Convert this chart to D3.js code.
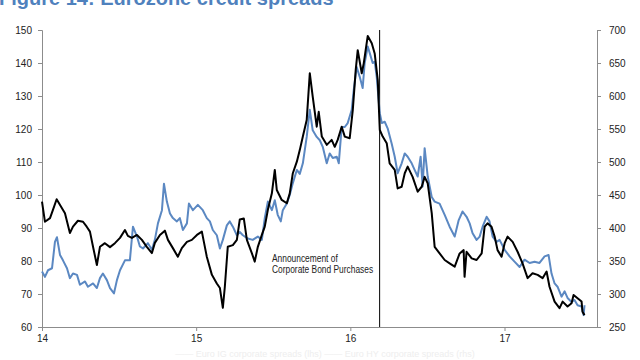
<!DOCTYPE html>
<html><head><meta charset="utf-8">
<script src="https://cdn.jsdelivr.net/npm/d3@7"></script>
<style>
html,body{margin:0;padding:0;background:#fff;}
svg{display:block;}
</style></head>
<body>
<svg id="chart" width="640" height="360"></svg>
<script>
// Decimal years and values
const igDates = [2014.00,2014.019,2014.052,2014.071,2014.095,2014.117,2014.149,2014.181,2014.201,2014.233,2014.266,2014.290,2014.311,2014.331,2014.356,2014.376,2014.408,2014.441,2014.473,2014.506,2014.538,2014.557,2014.583,2014.616,2014.648,2014.680,2014.713,2014.732,2014.765,2014.797,2014.817,2014.849,2014.881,2014.907,2014.940,2014.972,2015.005,2015.037,2015.050,2015.069,2015.102,2015.134,2015.154,2015.173,2015.186,2015.205,2015.238,2015.264,2015.283,2015.309,2015.329,2015.361,2015.380,2015.400,2015.426,2015.445,2015.465,2015.491,2015.510,2015.523,2015.555,2015.588,2015.607,2015.627,2015.653,2015.672,2015.692,2015.717,2015.737,2015.756,2015.782,2015.795,2015.815,2015.847,2015.879,2015.899,2015.918,2015.944,2015.964,2015.996,2016.016,2016.035,2016.048,2016.074,2016.087,2016.106,2016.113,2016.139,2016.158,2016.178,2016.191,2016.210,2016.236,2016.255,2016.288,2016.307,2016.333,2016.353,2016.372,2016.404,2016.437,2016.463,2016.482,2016.502,2016.528,2016.547,2016.579,2016.612,2016.644,2016.677,2016.709,2016.735,2016.741,2016.754,2016.787,2016.819,2016.852,2016.871,2016.890,2016.916,2016.936,2016.955,2016.981,2017.001,2017.020,2017.053,2017.085,2017.117,2017.150,2017.182,2017.215,2017.247,2017.273,2017.292,2017.325,2017.357,2017.377,2017.409,2017.435,2017.448,2017.474,2017.500,2017.506,2017.519];
const igValues = [98.0,91.9,93.0,95.5,98.7,97.0,94.5,88.5,90.4,92.2,91.9,90.4,88.9,84.3,78.8,84.3,85.4,84.2,85.4,87.0,89.4,87.6,87.0,87.9,86.4,84.3,82.4,85.5,87.9,89.2,86.4,83.9,81.3,83.9,85.8,86.4,87.9,88.9,85.8,81.3,75.8,73.2,71.8,65.8,72.2,84.3,84.8,86.4,92.6,92.9,86.4,82.4,79.8,84.3,87.9,90.4,95.5,100.5,107.6,101.5,98.5,97.5,100.5,106.6,110.1,113.6,117.7,122.7,136.9,129.8,120.7,125.2,117.7,115.2,116.7,114.6,116.7,120.7,117.7,117.2,125.8,137.9,143.9,136.9,139.9,146.0,148.2,146.0,142.9,134.8,119.7,117.7,115.7,109.6,107.6,102.0,102.5,106.6,108.6,105.5,101.0,102.5,105.5,103.5,94.5,84.3,82.3,80.3,79.3,78.3,82.3,83.3,75.2,82.8,80.8,80.3,82.3,90.4,91.4,90.4,87.4,83.3,81.3,85.4,87.4,85.8,82.8,79.3,74.8,76.3,75.8,74.8,76.8,72.2,67.7,65.7,67.7,66.2,67.2,69.7,68.7,67.7,64.6,63.6];

const hyDates = [2014.000,2014.019,2014.039,2014.065,2014.084,2014.097,2014.117,2014.136,2014.162,2014.181,2014.201,2014.227,2014.246,2014.279,2014.298,2014.331,2014.356,2014.376,2014.395,2014.421,2014.441,2014.467,2014.486,2014.506,2014.538,2014.570,2014.590,2014.616,2014.635,2014.655,2014.687,2014.713,2014.732,2014.752,2014.778,2014.791,2014.810,2014.830,2014.849,2014.875,2014.894,2014.914,2014.940,2014.953,2014.979,2015.011,2015.043,2015.069,2015.089,2015.108,2015.134,2015.154,2015.173,2015.199,2015.218,2015.238,2015.264,2015.283,2015.303,2015.335,2015.367,2015.400,2015.426,2015.445,2015.465,2015.491,2015.510,2015.529,2015.549,2015.562,2015.588,2015.607,2015.627,2015.653,2015.672,2015.692,2015.717,2015.737,2015.756,2015.782,2015.802,2015.821,2015.847,2015.866,2015.886,2015.912,2015.925,2015.944,2015.964,2015.983,2016.009,2016.022,2016.041,2016.061,2016.080,2016.093,2016.113,2016.126,2016.145,2016.158,2016.171,2016.191,2016.204,2016.223,2016.242,2016.268,2016.288,2016.307,2016.333,2016.353,2016.372,2016.398,2016.417,2016.437,2016.456,2016.469,2016.482,2016.502,2016.528,2016.547,2016.579,2016.612,2016.644,2016.677,2016.703,2016.728,2016.754,2016.774,2016.793,2016.819,2016.839,2016.858,2016.884,2016.903,2016.923,2016.949,2016.968,2017.001,2017.033,2017.065,2017.098,2017.130,2017.163,2017.195,2017.227,2017.260,2017.286,2017.305,2017.325,2017.344,2017.370,2017.390,2017.409,2017.435,2017.454,2017.474,2017.500,2017.513,2017.519];
const hyValues = [334,326,336,339,379,386,359,351,339,324,331,329,314,319,311,316,309,324,331,321,309,301,321,336,351,351,402,387,372,369,377,367,382,407,427,467,440,422,415,410,415,397,407,437,427,435,427,415,410,397,389,369,382,404,410,402,389,394,389,384,382,387,382,415,440,427,442,420,410,427,437,450,468,488,482,498,538,579,548,538,533,523,498,513,506,508,498,553,553,559,579,609,644,629,612,650,675,665,650,652,629,574,559,561,551,528,508,483,498,513,508,498,488,478,508,463,521,478,447,440,437,420,402,387,412,425,417,407,392,382,387,402,417,410,387,379,382,367,357,349,341,352,347,349,347,357,359,331,316,311,296,304,294,288,291,283,281,268,283];

const xTicks = [2014, 2015, 2016, 2017];
const xTickLabels = ["14", "15", "16", "17"];
const leftTicks = [60, 70, 80, 90, 100, 110, 120, 130, 140, 150];
const rightTicks = [250, 300, 350, 400, 450, 500, 550, 600, 650, 700];
const announcementDate = 2016.19;
const title = "Figure 14: Eurozone credit spreads";
const annotationLines = ["Announcement of", "Corporate Bond Purchases"];
const legendText = "——  Euro IG corporate spreads (lhs)      ——  Euro HY corporate spreads (rhs)";

const svg = d3.select("#chart");
const L = 42, R = 597, T = 30, B = 327;
const x = d3.scaleLinear().domain([2014, 2017.6]).range([L, R]);
const yL = d3.scaleLinear().domain([60, 150]).range([B, T]);
const yR = d3.scaleLinear().domain([250, 700]).range([B, T]);

const tickFont = "'Liberation Sans',Arial,sans-serif";

// Title (clipped at top as in the reference)
svg.append("text").attr("x", -1).attr("y", 5)
  .attr("font-family", "'Liberation Sans',Arial,sans-serif")
  .attr("font-weight", "bold").attr("font-size", 20)
  .attr("fill", "#4f81bd").text(title);

function styleAxis(g) {
  g.selectAll("path,line").attr("stroke", "#8c8c8c");
  g.selectAll("text").attr("font-family", tickFont).attr("font-size", 10).attr("fill", "#222");
}

svg.append("g").attr("transform", `translate(${L},0)`)
  .call(d3.axisLeft(yL).tickValues(leftTicks).tickSize(4).tickSizeOuter(4).tickPadding(6))
  .call(styleAxis);
svg.append("g").attr("transform", `translate(${R},0)`)
  .call(d3.axisRight(yR).tickValues(rightTicks).tickSize(4).tickSizeOuter(4).tickPadding(8))
  .call(styleAxis);
svg.append("g").attr("transform", `translate(0,${B})`)
  .call(d3.axisBottom(x).tickValues(xTicks).tickFormat((d, i) => xTickLabels[i]).tickSize(4).tickSizeOuter(0).tickPadding(4))
  .call(styleAxis);

// Announcement line
svg.append("line")
  .attr("x1", x(announcementDate)).attr("x2", x(announcementDate))
  .attr("y1", T).attr("y2", B)
  .attr("stroke", "#000").attr("stroke-width", 1);

const igData = igDates.map((d, i) => [d, igValues[i]]);
const hyData = hyDates.map((d, i) => [d, hyValues[i]]);

svg.append("path").datum(hyData)
  .attr("fill", "none").attr("stroke", "#5b88c2").attr("stroke-width", 2)
  .attr("stroke-linejoin", "round")
  .attr("d", d3.line().x(d => x(d[0])).y(d => yR(d[1])));

svg.append("path").datum(igData)
  .attr("fill", "none").attr("stroke", "#000").attr("stroke-width", 2)
  .attr("stroke-linejoin", "round")
  .attr("d", d3.line().x(d => x(d[0])).y(d => yL(d[1])));

// Annotation (condensed like the reference)
svg.append("g").attr("transform", "translate(272,0) scale(0.84,1)")
  .selectAll("text").data(annotationLines).join("text")
  .attr("x", 0).attr("y", (d, i) => 262 + i * 11)
  .attr("font-family", tickFont).attr("font-size", 10)
  .attr("fill", "#222").text(d => d);

// Faint legend at bottom
svg.append("text").attr("x", 325).attr("y", 357).attr("text-anchor", "middle")
  .attr("font-family", tickFont).attr("font-size", 9)
  .attr("fill", "#eeeeee").text(legendText);
</script>
</body></html>
